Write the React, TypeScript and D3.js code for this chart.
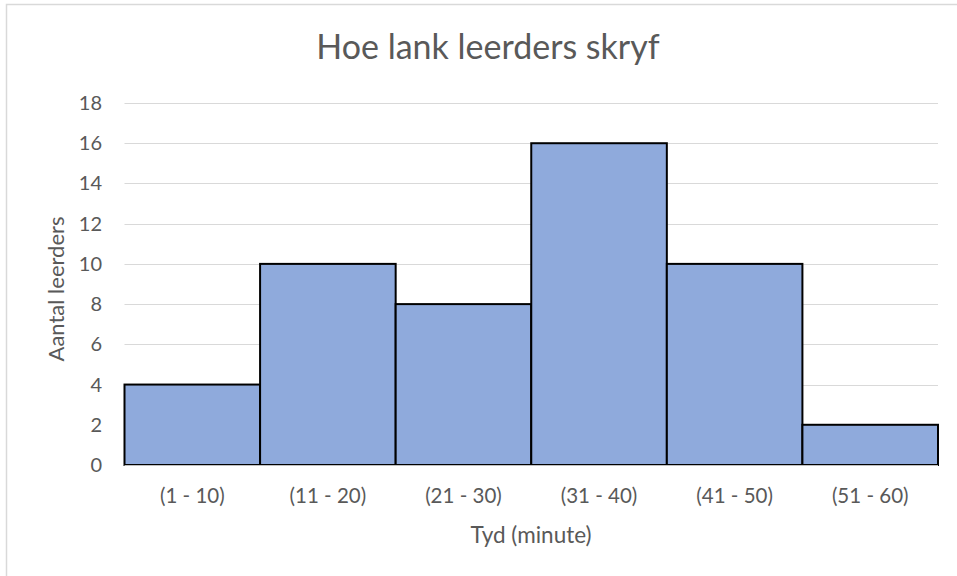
import React, { useRef, useEffect } from 'react';
import * as d3 from 'd3';

const width = 957;
const height = 576;

const categories = ['(1 - 10)', '(11 - 20)', '(21 - 30)', '(31 - 40)', '(41 - 50)', '(51 - 60)'];
const counts = [4, 10, 8, 16, 10, 2];
const yTicks = [0, 2, 4, 6, 8, 10, 12, 14, 16, 18];

const title = 'Hoe lank leerders skryf';
const xTitle = 'Tyd (minute)';
const yTitle = 'Aantal leerders';

const margin = { left: 124.5, right: 957 - 938, top: 103, bottom: 576 - 465 };
const font = 'Lato, "Open Sans", sans-serif';
const textColor = '#595959';

export default function App() {
    const svgRef = useRef<SVGSVGElement>(null);
    useEffect(() => {
        const svg = d3.select(svgRef.current);
        svg.selectAll('*').remove();

        const x = d3.scaleBand().domain(categories).range([margin.left, width - margin.right]).padding(0);
        const y = d3.scaleLinear().domain([0, 18]).range([height - margin.bottom, margin.top]);

        // chart frame
        svg.append('rect')
            .attr('x', 6.5).attr('y', 4.5)
            .attr('width', width + 10).attr('height', height + 10)
            .attr('fill', 'white').attr('stroke', '#D9D9D9').attr('stroke-width', 1.5);

        svg.append('text')
            .attr('x', 488).attr('y', 59)
            .attr('text-anchor', 'middle')
            .attr('font-family', font).attr('font-size', 34)
            .attr('fill', textColor)
            .text(title);

        // gridlines
        svg.append('g')
            .selectAll('line')
            .data(yTicks.filter(t => t > 0))
            .join('line')
            .attr('x1', margin.left).attr('x2', width - margin.right)
            .attr('y1', d => Math.round(y(d)) + 0.5).attr('y2', d => Math.round(y(d)) + 0.5)
            .attr('stroke', '#D9D9D9').attr('stroke-width', 1);

        svg.append('g')
            .selectAll('text')
            .data(yTicks)
            .join('text')
            .attr('x', 102)
            .attr('y', d => y(d))
            .attr('dy', '0.35em')
            .attr('text-anchor', 'end')
            .attr('font-family', font).attr('font-size', 20)
            .attr('fill', textColor)
            .text(d => d);

        svg.append('g')
            .selectAll('rect')
            .data(counts)
            .join('rect')
            .attr('x', (d, i) => x(categories[i])!)
            .attr('y', d => y(d))
            .attr('width', x.bandwidth())
            .attr('height', d => y(0) - y(d))
            .attr('fill', '#8FAADC')
            .attr('stroke', 'black')
            .attr('stroke-width', 2);

        // x axis line
        svg.append('line')
            .attr('x1', margin.left).attr('x2', width - margin.right)
            .attr('y1', y(0) + 0.5).attr('y2', y(0) + 0.5)
            .attr('stroke', '#BFBFBF').attr('stroke-width', 1);

        svg.append('g')
            .selectAll('text')
            .data(categories)
            .join('text')
            .attr('x', d => x(d)! + x.bandwidth() / 2)
            .attr('y', 503)
            .attr('text-anchor', 'middle')
            .attr('font-family', font).attr('font-size', 20.5)
            .attr('fill', textColor)
            .text(d => d);

        svg.append('text')
            .attr('x', 531).attr('y', 543)
            .attr('text-anchor', 'middle')
            .attr('font-family', font).attr('font-size', 22.5)
            .attr('fill', textColor)
            .text(xTitle);

        svg.append('text')
            .attr('transform', `translate(64, ${289}) rotate(-90)`)
            .attr('text-anchor', 'middle')
            .attr('font-family', font).attr('font-size', 22)
            .attr('fill', textColor)
            .text(yTitle);
    }, []);
    return (
        <svg ref={svgRef} width={width} height={height}
            style={{ position: 'absolute', left: 0, top: 0, background: 'white' }} />
    );
}
